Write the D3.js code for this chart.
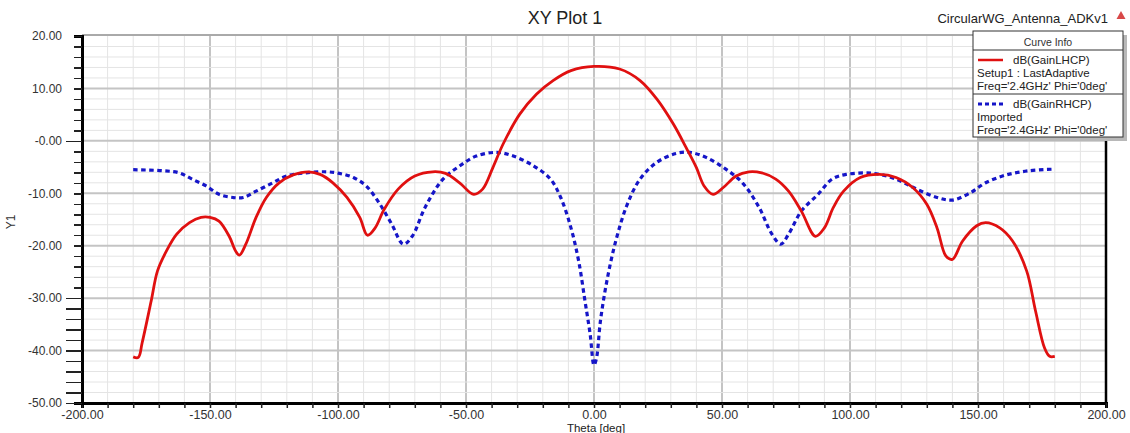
<!DOCTYPE html>
<html>
<head>
<meta charset="utf-8">
<script src="https://cdn.jsdelivr.net/npm/d3@7"></script>
<style>
  html, body { margin: 0; padding: 0; background: #fff; }
  #chart { width: 1130px; height: 433px; }
  text { font-family: "Liberation Sans", Arial, sans-serif; }
</style>
</head>
<body>
<div id="chart"></div>
<script>
// --- Data ---
const thetaLHCP = [
  -180, -178, -176.5, -173, -170.5, -167, -163, -158, -153.5, -150,
  -146.5, -142.5, -140, -138.5, -136, -132, -128, -123, -117.5, -111.5,
  -107, -102, -96.5, -91.5, -88.5, -85.5, -82, -76.5, -70, -63,
  -58, -52.5, -47, -43.5, -39.5, -35.5, -29, -22.5, -16, -9,
  0, 10, 18, 24.5, 31, 36, 40, 43, 46.5, 50.5,
  55.5, 60.5, 65.5, 71, 76, 81, 86.5, 90, 93.5, 97.5,
  104, 111.5, 118, 124.5, 130, 134, 137.5, 140, 144, 149.5,
  153, 158.5, 163.5, 169, 172.5, 176, 178, 180
];
const gainLHCP = [
  -41.2, -41.3, -38.5, -30.6, -24.8, -21.0, -17.8, -15.6, -14.6, -14.6,
  -15.3, -18.2, -21.0, -21.8, -19.7, -14.6, -10.8, -8.0, -6.5, -5.9,
  -6.4, -8.0, -10.8, -14.6, -18.0, -16.6, -13.1, -9.2, -6.7, -5.9,
  -6.2, -8.0, -10.2, -9.2, -5.1, -0.6, 5.1, 8.9, 11.5, 13.4,
  14.2, 13.7, 11.5, 8.0, 3.2, -1.3, -5.1, -8.6, -10.2, -8.9,
  -6.7, -5.9, -6.1, -7.3, -9.6, -13.4, -18.2, -16.6, -12.7, -9.6,
  -7.0, -6.4, -7.0, -8.9, -12.1, -16.6, -22.0, -22.6, -19.1, -16.2,
  -15.6, -16.6, -19.1, -24.8, -32.5, -39.5, -41.1, -41.1
];

const thetaRHCP = [
  -180, -168.5, -162, -157, -151.5, -146.5, -141, -137, -132, -125.5,
  -120, -112.5, -104.5, -99.5, -94, -89, -84, -79, -74.5, -71,
  -66, -59, -52.5, -46, -38, -31.5, -23.5, -17, -13, -9,
  -6, -3.5, -1.5, 0, 1, 2.5, 5, 8.5, 13, 18,
  24.5, 32, 37.5, 44, 51.5, 58, 64.5, 69.5, 73, 76,
  81, 87.5, 93, 98.5, 109, 118, 126, 134, 140, 147,
  153, 161, 170, 179.5
];
const gainRHCP = [
  -5.5, -5.7, -6.1, -7.3, -8.6, -10.2, -10.8, -10.8, -9.6, -8.0,
  -6.7, -6.1, -5.9, -6.2, -7.0, -8.6, -11.8, -15.9, -19.7, -18.2,
  -12.7, -7.3, -4.8, -2.9, -2.2, -2.9, -4.8, -7.3, -10.8, -16.6,
  -22.9, -30.6, -36.9, -42.8, -41.4, -34.4, -26.8, -19.1, -12.1, -7.3,
  -4.1, -2.4, -2.2, -3.2, -5.4, -8.0, -12.7, -17.8, -19.7, -17.8,
  -13.4, -10.2, -7.3, -6.4, -6.2, -7.3, -9.2, -10.8, -11.3, -9.9,
  -8.0, -6.5, -5.7, -5.4
];

const xTicks = [-200, -150, -100, -50, 0, 50, 100, 150, 200];
const xTickLabels = ['-200.00', '-150.00', '-100.00', '-50.00', '0.00', '50.00', '100.00', '150.00', '200.00'];
const yTicks = [20, 10, 0, -10, -20, -30, -40, -50];
const yTickLabels = ['20.00', '10.00', '-0.00', '-10.00', '-20.00', '-30.00', '-40.00', '-50.00'];

const legendEntries = [
  { name: 'dB(GainLHCP)', lines: ['Setup1 : LastAdaptive', "Freq='2.4GHz' Phi='0deg'"], color: '#e01010', dash: null },
  { name: 'dB(GainRHCP)', lines: ['Imported', "Freq='2.4GHz' Phi='0deg'"], color: '#1515c8', dash: '4,3' }
];

(function () {
  'use strict';

  // --- Layout ---
  const W = 1130, H = 433;
  const plot = { left: 82, right: 1106, top: 36, bottom: 403 };

  const svg = d3.select('#chart').append('svg')
    .attr('width', W)
    .attr('height', H);

  const x = d3.scaleLinear().domain([-200, 200]).range([plot.left, plot.right]);
  const y = d3.scaleLinear().domain([-50, 20]).range([plot.bottom, plot.top]);

  // --- Grid ---
  const grid = svg.append('g');
  grid.selectAll('.vx').data(d3.range(-190, 200, 10))
    .join('line')
    .attr('x1', d => x(d)).attr('x2', d => x(d))
    .attr('y1', plot.top).attr('y2', plot.bottom)
    .attr('stroke', d => d % 50 === 0 ? '#c4c4c4' : '#e4e4e4')
    .attr('stroke-width', d => d % 50 === 0 ? 2 : 1);
  grid.selectAll('.hy').data(d3.range(-48, 20, 2))
    .join('line')
    .attr('x1', plot.left).attr('x2', plot.right)
    .attr('y1', d => y(d)).attr('y2', d => y(d))
    .attr('stroke', d => d % 10 === 0 ? '#c4c4c4' : '#e4e4e4')
    .attr('stroke-width', d => d % 10 === 0 ? 2 : 1);

  // top frame
  svg.append('line')
    .attr('x1', plot.left).attr('x2', plot.right)
    .attr('y1', plot.top - 1).attr('y2', plot.top - 1)
    .attr('stroke', '#555').attr('stroke-width', 1);
  // right frame
  svg.append('line')
    .attr('x1', plot.right).attr('x2', plot.right)
    .attr('y1', plot.top - 1).attr('y2', plot.bottom)
    .attr('stroke', '#000').attr('stroke-width', 2.5);

  // --- Axes ---
  const xAxis = svg.append('g')
    .attr('transform', `translate(0,${plot.bottom})`)
    .call(d3.axisBottom(x)
      .tickValues(d3.range(-200, 201, 10))
      .tickSize(5)
      .tickPadding(2)
      .tickFormat(d => {
        const i = xTicks.indexOf(d);
        return i >= 0 ? xTickLabels[i] : '';
      }));
  xAxis.select('.domain').attr('stroke', '#000').attr('stroke-width', 3);
  xAxis.selectAll('.tick line').attr('stroke', '#222').attr('stroke-width', 1.5);
  xAxis.selectAll('.tick text')
    .attr('font-size', 12.5)
    .attr('fill', '#333');

  const yAxis = svg.append('g')
    .attr('transform', `translate(${plot.left},0)`)
    .call(d3.axisLeft(y)
      .tickValues(d3.range(-50, 21, 2))
      .tickSize(8)
      .tickFormat(d => {
        const i = yTicks.indexOf(d);
        return i >= 0 ? yTickLabels[i] : '';
      }));
  yAxis.select('.domain').attr('stroke', '#000').attr('stroke-width', 3);
  yAxis.selectAll('.tick line')
    .attr('stroke', '#222').attr('stroke-width', 1.5)
    .attr('x2', d => (d === 0 || d <= -30) ? -16 : -8);
  yAxis.selectAll('.tick text')
    .attr('x', -20)
    .attr('font-size', 12)
    .attr('fill', '#333');
  yAxis.selectAll('.domain, .tick line').attr('shape-rendering', 'crispEdges');

  // --- Curves ---
  const line = d3.line()
    .x(d => x(d[0]))
    .y(d => y(d[1]))
    .curve(d3.curveCatmullRom.alpha(0.5));

  svg.append('path')
    .datum(d3.zip(thetaRHCP, gainRHCP))
    .attr('d', line)
    .attr('fill', 'none')
    .attr('stroke', legendEntries[1].color)
    .attr('stroke-width', 3.2)
    .attr('stroke-dasharray', '4.5,3.5');

  svg.append('path')
    .datum(d3.zip(thetaLHCP, gainLHCP))
    .attr('d', line)
    .attr('fill', 'none')
    .attr('stroke', legendEntries[0].color)
    .attr('stroke-width', 2.8)
    .attr('stroke-linejoin', 'round');

  // --- Titles ---
  svg.append('text')
    .attr('x', 565).attr('y', 24)
    .attr('text-anchor', 'middle')
    .attr('font-size', 18)
    .attr('fill', '#222')
    .text('XY Plot 1');

  svg.append('text')
    .attr('x', 1108).attr('y', 23)
    .attr('text-anchor', 'end')
    .attr('font-size', 13)
    .attr('fill', '#222')
    .text('CircularWG_Antenna_ADKv1');

  svg.append('path')
    .attr('d', 'M1121,11 L1125.5,19 L1116.5,19 Z')
    .attr('fill', '#d84848');

  svg.append('text')
    .attr('x', 596).attr('y', 432)
    .attr('text-anchor', 'middle')
    .attr('font-size', 11.5)
    .attr('fill', '#222')
    .text('Theta [deg]');

  svg.append('text')
    .attr('transform', 'translate(15,222) rotate(-90)')
    .attr('text-anchor', 'middle')
    .attr('font-size', 12)
    .attr('fill', '#333')
    .text('Y1');

  // --- Legend (Curve Info) ---
  const lg = svg.append('g');
  const box = { x: 973, y: 31, w: 150, h: 106 };
  lg.append('rect')
    .attr('x', box.x + 4).attr('y', box.y + 4)
    .attr('width', box.w).attr('height', box.h)
    .attr('fill', '#b8b8b8');
  lg.append('rect')
    .attr('x', box.x).attr('y', box.y)
    .attr('width', box.w).attr('height', box.h)
    .attr('fill', '#fff')
    .attr('stroke', '#333').attr('stroke-width', 1);
  lg.append('text')
    .attr('x', box.x + box.w / 2).attr('y', box.y + 15)
    .attr('text-anchor', 'middle')
    .attr('font-size', 10.5)
    .attr('fill', '#333')
    .text('Curve Info');

  const entryTop = [50, 94];
  legendEntries.forEach((e, i) => {
    const top = entryTop[i];
    lg.append('line')
      .attr('x1', box.x).attr('x2', box.x + box.w)
      .attr('y1', top).attr('y2', top)
      .attr('stroke', '#333').attr('stroke-width', 1);
    lg.append('line')
      .attr('x1', 978).attr('x2', 1003)
      .attr('y1', top + 10).attr('y2', top + 10)
      .attr('stroke', e.color)
      .attr('stroke-width', e.dash ? 3 : 2.5)
      .attr('stroke-dasharray', e.dash);
    lg.append('text')
      .attr('x', 1013).attr('y', top + 14)
      .attr('font-size', 11.5)
      .attr('fill', '#222')
      .text(e.name);
    e.lines.forEach((t, j) => {
      lg.append('text')
        .attr('x', 977).attr('y', top + 27 + j * 12.5)
        .attr('font-size', 11.5)
        .attr('fill', '#222')
        .text(t);
    });
  });
})();
</script>
</body>
</html>
